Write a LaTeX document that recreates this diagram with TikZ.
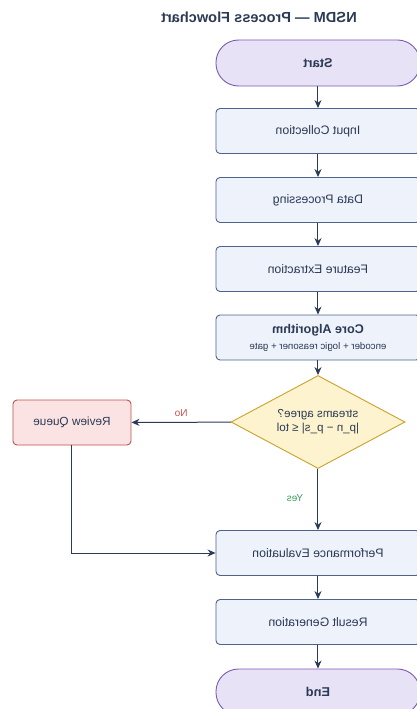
\documentclass[tikz,border=0pt]{standalone}
\usepackage{fontspec}
\setmainfont{Liberation Sans}
\usetikzlibrary{arrows.meta,shapes.geometric,positioning}
\definecolor{navy}{HTML}{2B3A55}
\definecolor{boxFill}{HTML}{EEF2FB}
\definecolor{boxLine}{HTML}{4F6289}
\definecolor{termFill}{HTML}{E8E2F6}
\definecolor{termLine}{HTML}{7D5BB0}
\definecolor{decFill}{HTML}{FDF3CF}
\definecolor{decLine}{HTML}{C9A227}
\definecolor{revFill}{HTML}{FBE3E3}
\definecolor{revLine}{HTML}{C0504D}
\definecolor{noCol}{HTML}{C0504D}
\definecolor{yesCol}{HTML}{3A9A5A}

\begin{document}
\begin{tikzpicture}
    [
        x=1pt, y=-1pt, xscale=-1,
        every node/.append style={transform shape},
        proc/.style={rectangle, rounded corners=4pt, draw=boxLine, fill=boxFill, line width=0.9pt,
            minimum width=204pt, minimum height=45pt, font=\fontsize{12.3}{14}\selectfont, text=navy},
        term/.style={rectangle, rounded corners=22.5pt, draw=termLine, fill=termFill, line width=0.9pt,
            minimum width=204pt, minimum height=46pt, font=\fontsize{12.8}{14}\selectfont\bfseries, text=navy},
        decision/.style={diamond, aspect=1.87, inner sep=0pt, draw=decLine, fill=decFill, line width=0.9pt,
            minimum width=174pt, minimum height=93pt, align=center,
            font=\fontsize{11.6}{14}\selectfont, text=navy},
        review/.style={rectangle, rounded corners=4pt, draw=revLine, fill=revFill, line width=0.9pt,
            minimum width=118pt, minimum height=45pt, font=\fontsize{11.8}{14}\selectfont, text=navy},
        flow/.style={draw=navy, line width=1pt, -{Stealth[length=8pt,width=7pt]}},
        lbl/.style={font=\fontsize{10}{12}\selectfont}
    ]
    \useasboundingbox (0,0) rectangle (417,709);
%    \draw[help lines,step=20] (0,0) grid (417,709);

    \node[font=\fontsize{14.6}{16}\selectfont\bfseries, text=navy] (title) at (158,17) {NSDM — Process Flowchart};

    \node[term] (start) at (99,63) {Start};
    \foreach \name/\y/\txt in {in/131/Input Collection, proc/200/Data Processing, feat/269/Feature Extraction,
        perf/553/Performance Evaluation, res/622/Result Generation}
    {
        \node[proc] (\name) at (99,\y) {\txt};
    }
    \node[proc, align=center] (core) at (99,337.5)
        {{\fontsize{12.6}{14}\selectfont\bfseries Core Algorithm}\\[2pt]
         {\fontsize{9.7}{11}\selectfont encoder + logic reasoner + gate}};
    \node[decision] (agree) at (99,422) {streams agree?\\|p\_n − p\_s| ≤ tol};
    \node[review] (rq) at (345,422.5) {Review Queue};
    \node[term] (end) at (99,692) {End};

    \draw[flow] (start) -- (in);
    \draw[flow] (in) -- (proc);
    \draw[flow] (proc) -- (feat);
    \draw[flow] (feat) -- (core);
    \draw[flow] (core) -- (agree);
    \draw[flow] (agree) -- (rq) node[lbl, midway, above=2pt, text=noCol] {No};
    \draw[flow] (agree) -- (perf) node[lbl, pos=0.47, right=11pt, text=yesCol] {Yes};
    \draw[flow] (rq.south) |- (perf.east);
    \draw[flow] (perf) -- (res);
    \draw[flow] (res) -- (end);
\end{tikzpicture}
\end{document}
